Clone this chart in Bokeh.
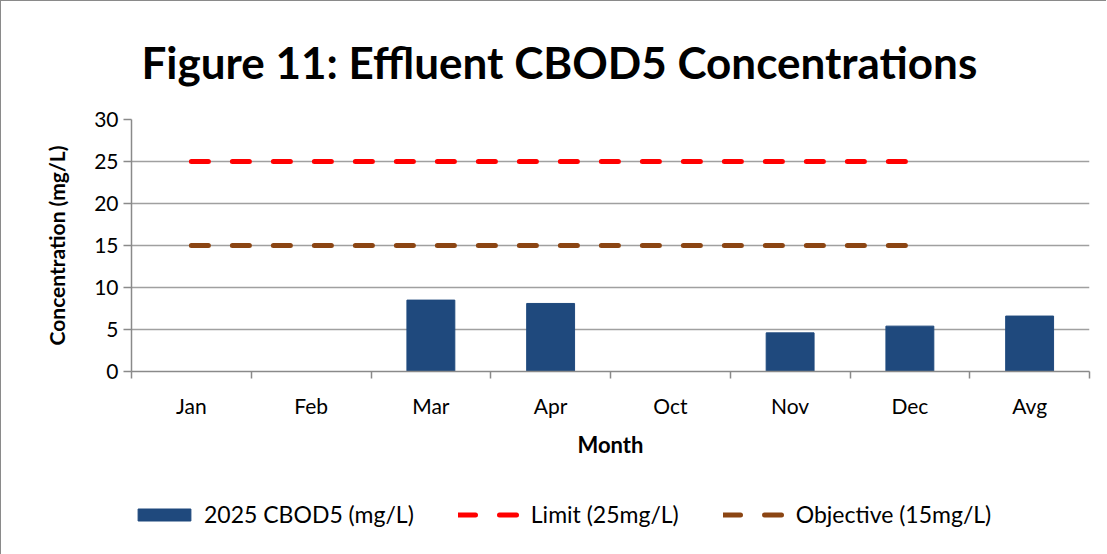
import math
from bokeh.plotting import figure
from bokeh.layouts import column
from bokeh.models import (ColumnDataSource, FixedTicker, Legend, LegendItem, Title)
from bokeh.embed import file_html
from bokeh.resources import INLINE

# ---- data ----
months = ["Jan", "Feb", "Mar", "Apr", "Oct", "Nov", "Dec", "Avg"]
cbod5 = [float("nan"), float("nan"), 8.5, 8.1, float("nan"), 4.6, 5.4, 6.6]
limit_months = ["Jan", "Feb", "Mar", "Apr", "Oct", "Nov", "Dec"]
limit = [25, 25, 25, 25, 25, 25, 25]
objective = [15, 15, 15, 15, 15, 15, 15]
y_ticks = [0, 5, 10, 15, 20, 25, 30]
series_names = ["2025 CBOD5 (mg/L)", "Limit (25mg/L)", "Objective (15mg/L)"]

FONT = "Lato"
GRID = "#a0a0a0"
BAR = "#1f497d"
RED = "#ff0000"
BROWN = "#8b4513"
BORDER = "1px solid #8a8a8a"

pos = {m: i + 0.5 for i, m in enumerate(months)}
bar_src = ColumnDataSource(dict(x=[pos[m] for m, v in zip(months, cbod5) if not math.isnan(v)],
                                top=[v for v in cbod5 if not math.isnan(v)]))
line_src = ColumnDataSource(dict(x=[pos[m] for m in limit_months], limit=limit, objective=objective))


def style_series(fig):
    b = fig.vbar(x="x", top="top", width=0.4, source=bar_src, fill_color=BAR, line_color=BAR)
    l1 = fig.line(x="x", y="limit", source=line_src, line_color=RED, line_width=5,
                  line_dash="17 24", line_cap="round")
    l2 = fig.line(x="x", y="objective", source=line_src, line_color=BROWN, line_width=5,
                  line_dash="17 24", line_cap="round")
    return b, l1, l2


p = figure(output_backend="svg", toolbar_location=None,
           x_range=(0, len(months)), y_range=(0, 30),
           frame_width=957, frame_height=251,
           min_border_left=130, min_border_right=18, min_border_top=116, min_border_bottom=100,
           background_fill_color="white", border_fill_color="white",
           styles={"border-left": BORDER, "border-top": BORDER})
p.outline_line_color = None

p.title = Title(text="Figure 11:  Effluent CBOD5 Concentrations", align="left", offset=10,
                text_font=FONT, text_font_size="44px", text_font_style="bold",
                text_color="black", standoff=64)

style_series(p)

# x axis
xa = p.xaxis[0]
xa.ticker = FixedTicker(ticks=[pos[m] for m in months], minor_ticks=list(range(len(months) + 1)))
xa.major_label_overrides = {pos[m]: m for m in months}
xa.major_tick_out = 0
xa.major_tick_in = 0
xa.minor_tick_out = 7
xa.minor_tick_in = 0
xa.minor_tick_line_color = "#8a8a8a"
xa.minor_tick_line_width = 1.5
xa.axis_line_color = "#8a8a8a"
xa.axis_line_width = 1.5
xa.major_label_text_font = FONT
xa.major_label_text_font_size = "21px"
xa.major_label_text_color = "black"
xa.major_label_standoff = 14
xa.axis_label = "Month"
xa.axis_label_text_font = FONT
xa.axis_label_text_font_size = "22px"
xa.axis_label_text_font_style = "bold"
xa.axis_label_text_color = "black"
xa.axis_label_standoff = 10

# y axis
ya = p.yaxis[0]
ya.ticker = FixedTicker(ticks=y_ticks, minor_ticks=[])
ya.major_tick_out = 8
ya.major_tick_in = 0
ya.major_tick_line_color = "#8a8a8a"
ya.major_tick_line_width = 1.5
ya.axis_line_color = "#8a8a8a"
ya.axis_line_width = 1.5
ya.major_label_text_font = FONT
ya.major_label_text_font_size = "21px"
ya.major_label_text_color = "black"
ya.major_label_standoff = 5
ya.axis_label = "Concentration (mg/L)"
ya.axis_label_text_font = FONT
ya.axis_label_text_font_size = "21px"
ya.axis_label_text_font_style = "bold"
ya.axis_label_text_color = "black"
ya.axis_label_standoff = 22

p.xgrid.grid_line_color = None
p.ygrid.ticker = FixedTicker(ticks=y_ticks)
p.ygrid.grid_line_color = GRID
p.ygrid.grid_line_width = 1.5
p.ygrid.level = "underlay"

# legend strip: a separate figure below the chart; its series lie outside its view range
lf = figure(output_backend="svg", toolbar_location=None, width=1105, height=84,
            x_axis_location=None, y_axis_location=None,
            x_range=(100, 101), y_range=(100, 101),
            min_border=0, background_fill_color="white", border_fill_color="white",
            styles={"border-left": BORDER})
lf.outline_line_color = None
lf.grid.grid_line_color = None
r_bar, r_lim, r_obj = style_series(lf)
legend = Legend(items=[LegendItem(label=series_names[0], renderers=[r_bar]),
                       LegendItem(label=series_names[1], renderers=[r_lim]),
                       LegendItem(label=series_names[2], renderers=[r_obj])],
                orientation="horizontal", location=(0, 26),
                glyph_width=66, glyph_height=15, label_standoff=7, spacing=44,
                padding=0, margin=0, border_line_color=None, background_fill_alpha=0,
                label_text_font=FONT, label_text_font_size="23px", label_text_color="black")
lf.add_layout(legend, "center")

layout = column(p, lf, spacing=0)
open("out.html", "w").write(file_html(layout, INLINE))
